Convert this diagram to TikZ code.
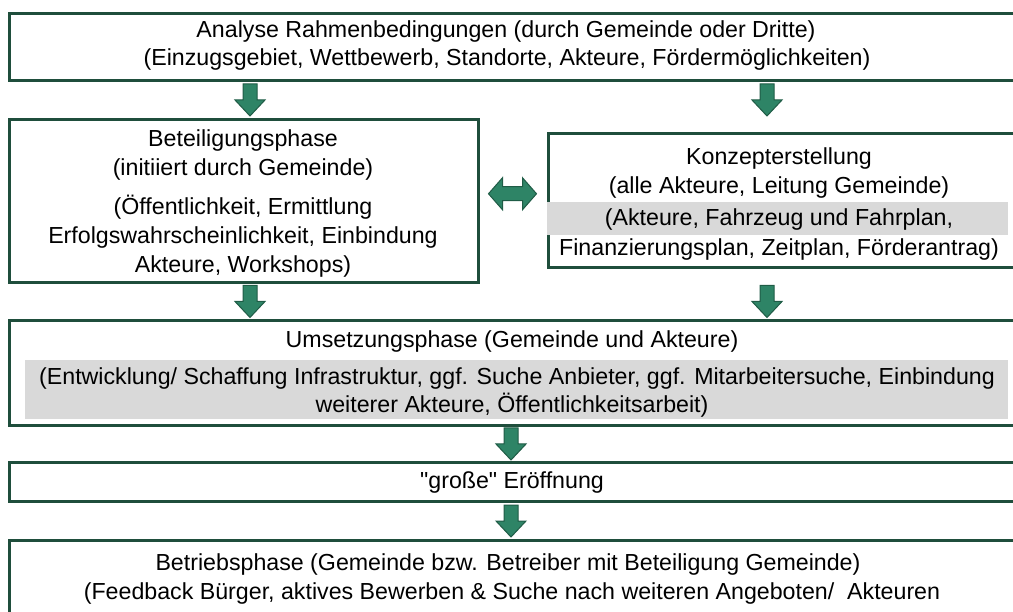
\documentclass[tikz,border=0pt]{standalone}
\usepackage{fontspec}
\setmainfont{Liberation Sans}[Ligatures=TeXOff]
\usetikzlibrary{calc}
\definecolor{boxgreen}{HTML}{1F4E3C}
\definecolor{arrfill}{HTML}{2E8466}
\definecolor{arrdraw}{HTML}{1F5C46}
\definecolor{band}{HTML}{D9D9D9}
\tikzset{
  box/.style={draw=boxgreen, line width=3pt, fill=white, inner sep=0pt, anchor=north west},
  bandbox/.style={fill=band, draw=none, inner sep=0pt, anchor=north west},
  txt/.style={inner sep=0pt, anchor=base, font=\fontsize{23.2}{28}\selectfont},
  downarr/.pic={\draw[draw=arrdraw, fill=arrfill, line width=1pt]
     (-7,-16) -- (7,-16) -- (7,0) -- (15,0) -- (0,16) -- (-15,0) -- (-7,0) -- cycle;},
  lrarr/.pic={\draw[draw=arrdraw, fill=arrfill, line width=1pt]
     (-24,0) -- (-10,-16) -- (-10,-7) -- (10,-7) -- (10,-16) -- (24,0) -- (10,16) -- (10,7) -- (-10,7) -- (-10,16) -- cycle;}
}
\begin{document}
\begin{tikzpicture}[x=1pt,y=-1pt]
\useasboundingbox (0,0) rectangle (1013,612);
\clip (0,0) rectangle (1013,612);
% boxes
\node[box, minimum width=1012pt, minimum height=67pt] (analyse) at (8,12) {};
\node[box, minimum width=469pt, minimum height=163pt] (lbox) at (8,118) {};
\node[box, minimum width=473pt, minimum height=134pt] (rbox) at (547,132) {};
\node[box, minimum width=1012pt, minimum height=105pt] (umsetz) at (8,319) {};
\node[box, minimum width=1012pt, minimum height=39pt] (eroeff) at (8,461) {};
\node[box, minimum width=1012pt, minimum height=100pt] (betrieb) at (8,539) {};
% grey bands
\node[bandbox, minimum width=461pt, minimum height=33pt] (rband) at (547,202) {};
\node[bandbox, minimum width=983pt, minimum height=59pt] (uband) at (25,360) {};
% texts
\node[txt] (ta1) at (506,38) {Analyse Rahmenbedingungen (durch Gemeinde oder Dritte)};
\node[txt] (ta2) at (507,66) {(Einzugsgebiet, Wettbewerb, Standorte, Akteure, Fördermöglichkeiten)};
\node[txt] (tl1) at (243,147) {Beteiligungsphase};
\node[txt] (tl2) at (243,176) {(initiiert durch Gemeinde)};
\node[txt] (tl3) at (243,215) {(Öffentlichkeit, Ermittlung};
\node[txt] (tl4) at (243,244) {Erfolgswahrscheinlichkeit, Einbindung};
\node[txt] (tl5) at (243,273) {Akteure, Workshops)};
\node[txt] (tr1) at (779,165) {Konzepterstellung};
\node[txt] (tr2) at (779,194) {(alle Akteure, Leitung Gemeinde)};
\node[txt] (tr3) at (779,226) {(Akteure, Fahrzeug und Fahrplan,};
\node[txt] (tr4) at (779,256) {Finanzierungsplan, Zeitplan, Förderantrag)};
\node[txt] (tu1) at (512,348) {Umsetzungsphase (Gemeinde und Akteure)};
\node[txt] (tu2) at (517,385) {(Entwicklung/ Schaffung Infrastruktur, ggf. Suche Anbieter, ggf. Mitarbeitersuche, Einbindung};
\node[txt] (tu3) at (512,413) {weiterer Akteure, Öffentlichkeitsarbeit)};
\node[txt] (te) at (512,489) {"große" Eröffnung};
\node[txt] (tb1) at (508,570) {Betriebsphase (Gemeinde bzw. Betreiber mit Beteiligung Gemeinde)};
\node[txt] (tb2) at (512,599) {(Feedback Bürger, aktives Bewerben \& Suche nach weiteren Angeboten/\ \ Akteuren};
% connectors
\coordinate (m1) at ($(analyse.south)!.5!(lbox.north)$);
\coordinate (m2) at ($(lbox.south)!.5!(umsetz.north)$);
\coordinate (m3) at ($(umsetz.south)!.5!(eroeff.north)$);
\coordinate (m4) at ($(eroeff.south)!.5!(betrieb.north)$);
\coordinate (md) at ($(lbox.east)!.5!(rbox.west)$);
\pic at (250,0 |- m1) {downarr};
\pic at (767,0 |- m1) {downarr};
\pic at (250,0 |- m2) {downarr};
\pic at (767,0 |- m2) {downarr};
\pic at (511,0 |- m3) {downarr};
\pic at (511,0 |- m4) {downarr};
\pic at ($(md)+(-1,-7)$) {lrarr};
\end{tikzpicture}
\end{document}
